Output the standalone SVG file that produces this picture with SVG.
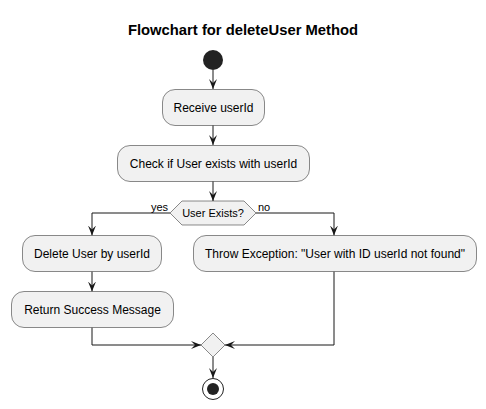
<svg xmlns="http://www.w3.org/2000/svg" width="486" height="409" viewBox="0 0 486 409">
<style>
.box{fill:#F1F1F1;stroke:#181818;stroke-width:0.5}
.t{font-family:"Liberation Sans",Arial,sans-serif;font-size:12px;fill:#000}
.lbl{font-family:"Liberation Sans",Arial,sans-serif;font-size:11px;fill:#000}
.c{fill:none;stroke:#181818;stroke-width:1}
</style>
<defs>
<marker id="ah" markerUnits="userSpaceOnUse" markerWidth="10" markerHeight="8" refX="10" refY="4" orient="auto" viewBox="0 0 10 8">
<path d="M0,0 L10,4 L0,8 L4,4 Z" fill="#181818"/>
</marker>
</defs>
<rect width="486" height="409" fill="#FFFFFF"/>
<text x="243" y="35" text-anchor="middle" font-family="'Liberation Sans',Arial,sans-serif" font-size="14.8" font-weight="bold">Flowchart for deleteUser Method</text>
<g id="connectors">
<path class="c" d="M213,70 L213,89" marker-end="url(#ah)"/>
<path class="c" d="M213,125 L213,145" marker-end="url(#ah)"/>
<path class="c" d="M213,181 L213,201" marker-end="url(#ah)"/>
<path class="c" d="M170,213 L92,213 L92,235.5" marker-end="url(#ah)"/>
<path class="c" d="M256,213 L334,213 L334,235.5" marker-end="url(#ah)"/>
<path class="c" d="M92,271.5 L92,291.5" marker-end="url(#ah)"/>
<path class="c" d="M92,327.5 L92,345 L201,345" marker-end="url(#ah)"/>
<path class="c" d="M334,271.5 L334,345 L225,345" marker-end="url(#ah)"/>
<path class="c" d="M213,357 L213,378" marker-end="url(#ah)"/>
<text class="lbl" x="168" y="211" text-anchor="end">yes</text>
<text class="lbl" x="258" y="211">no</text>
</g>
<g id="start"><circle cx="213" cy="60" r="10" fill="#222222"/></g>
<g id="receive"><rect class="box" x="162.5" y="89.5" width="102" height="36" rx="12.5"/><text class="t" x="213.5" y="112" text-anchor="middle">Receive userId</text></g>
<g id="check"><rect class="box" x="117.5" y="145.5" width="192" height="36" rx="12.5"/><text class="t" x="213.5" y="168" text-anchor="middle">Check if User exists with userId</text></g>
<g id="decision"><polygon class="box" points="170,213 182,201 244,201 256,213 244,225 182,225"/><text class="lbl" x="213" y="217" text-anchor="middle">User Exists?</text></g>
<g id="delete"><rect class="box" x="22.5" y="235.5" width="139" height="36" rx="12.5"/><text class="t" x="92" y="258" text-anchor="middle">Delete User by userId</text></g>
<g id="throw"><rect class="box" x="193.5" y="235.5" width="283" height="36" rx="12.5"/><text class="t" x="335" y="258" text-anchor="middle">Throw Exception: "User with ID userId not found"</text></g>
<g id="return"><rect class="box" x="11.5" y="291.5" width="162" height="36" rx="12.5"/><text class="t" x="92.5" y="314" text-anchor="middle">Return Success Message</text></g>
<g id="merge"><polygon class="box" points="201,345 213,333 225,345 213,357"/></g>
<g id="end"><circle cx="213" cy="389" r="10.5" fill="none" stroke="#222222" stroke-width="1"/><circle cx="213" cy="389" r="6" fill="#222222"/></g>
</svg>
